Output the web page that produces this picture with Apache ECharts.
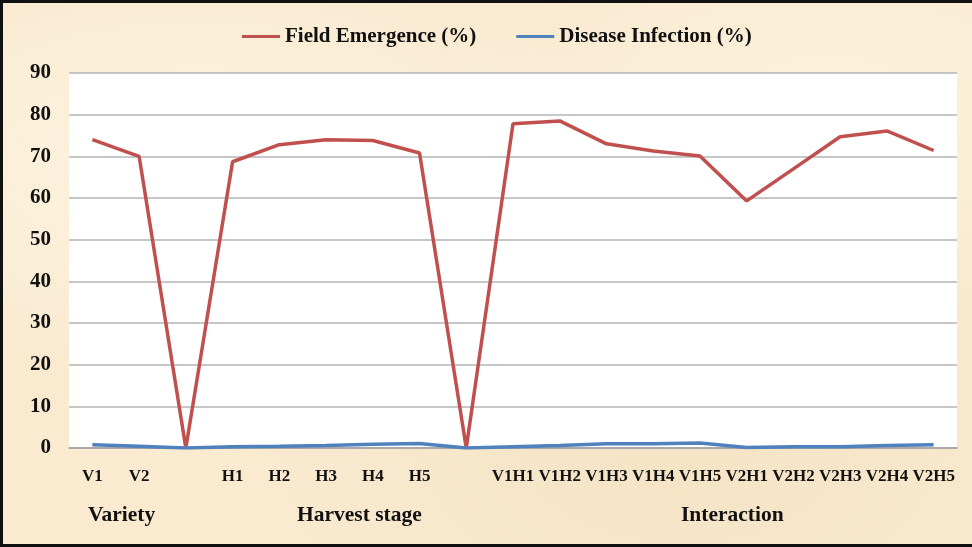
<!DOCTYPE html>
<html>
<head>
<meta charset="utf-8">
<script src="https://cdn.jsdelivr.net/npm/echarts@6/dist/echarts.min.js"></script>
<style>
  html, body { margin: 0; padding: 0; }
  body { width: 972px; height: 547px; overflow: hidden; background: #fbeed5; }
  #frame {
    position: absolute; left: 0; top: 0; width: 972px; height: 547px; box-sizing: border-box;
    border-left: 3px solid #111; border-top: 3px solid #111; border-bottom: 3px solid #111;
    background:
      radial-gradient(ellipse at 20% 30%, rgba(255,250,235,0.6), rgba(255,250,235,0) 40%),
      radial-gradient(ellipse at 70% 80%, rgba(240,220,185,0.5), rgba(240,220,185,0) 45%),
      radial-gradient(ellipse at 85% 20%, rgba(255,248,230,0.5), rgba(255,248,230,0) 35%),
      #f9ead0;
  }
  #chart { position: absolute; left: 0; top: 0; width: 972px; height: 547px; }
</style>
</head>
<body>
<div id="frame"></div>
<div id="chart"></div>
<script>
// categories (blank slots separate the three groups)
const categories = ['V1', 'V2', '', 'H1', 'H2', 'H3', 'H4', 'H5', '',
  'V1H1', 'V1H2', 'V1H3', 'V1H4', 'V1H5', 'V2H1', 'V2H2', 'V2H3', 'V2H4', 'V2H5'];
const fieldEmergence = [74, 70, 0, 68.7, 72.8, 74, 73.8, 70.8, 0,
  77.8, 78.5, 73, 71.3, 70.1, 59.3, 67, 74.7, 76.1, 71.4];
const diseaseInfection = [0.8, 0.4, 0, 0.3, 0.4, 0.6, 0.9, 1.1, 0,
  0.3, 0.6, 1.0, 1.0, 1.2, 0.1, 0.3, 0.3, 0.6, 0.8];
const groupLabels = ['Variety', 'Harvest stage', 'Interaction'];

const serif = '"Liberation Serif", "Times New Roman", serif';
const chart = echarts.init(document.getElementById('chart'));
chart.setOption({
  animation: false,
  backgroundColor: 'transparent',
  legend: {
    top: 21,
    left: 237,
    itemWidth: 38,
    itemHeight: 3,
    itemGap: 40,
    icon: 'rect',
    textStyle: { fontFamily: serif, fontWeight: 'bold', fontSize: 21, color: '#111' },
    data: ['Field Emergence (%)', 'Disease Infection (%)']
  },
  grid: { left: 69, right: 15, top: 73, bottom: 99, show: true, backgroundColor: '#ffffff', borderWidth: 0 },
  xAxis: {
    type: 'category',
    data: categories,
    boundaryGap: true,
    axisLine: { lineStyle: { color: '#a0a0a0', width: 1.5 } },
    axisTick: { show: false },
    axisLabel: { interval: 0, margin: 20, fontFamily: serif, fontWeight: 'bold', fontSize: 17, color: '#111' }
  },
  yAxis: {
    type: 'value',
    min: 0, max: 90, interval: 10,
    axisLine: { show: false },
    axisTick: { show: false },
    splitLine: { lineStyle: { color: '#b4b4b4', width: 1.5 } },
    axisLabel: { margin: 18, fontFamily: serif, fontWeight: 'bold', fontSize: 21, color: '#111' }
  },
  series: [
    {
      name: 'Field Emergence (%)', type: 'line', data: fieldEmergence,
      symbol: 'none', lineStyle: { color: '#c0504d', width: 3.5 }, itemStyle: { color: '#c0504d' }
    },
    {
      name: 'Disease Infection (%)', type: 'line', data: diseaseInfection,
      symbol: 'none', lineStyle: { color: '#4f81bd', width: 3.5 }, itemStyle: { color: '#4f81bd' }
    }
  ],
  graphic: [
    { type: 'text', left: 88, top: 504, style: { text: groupLabels[0], font: 'bold 21.5px ' + serif, fill: '#111' } },
    { type: 'text', left: 297, top: 504, style: { text: groupLabels[1], font: 'bold 21.5px ' + serif, fill: '#111' } },
    { type: 'text', left: 681, top: 504, style: { text: groupLabels[2], font: 'bold 21.5px ' + serif, fill: '#111' } }
  ]
});
</script>
</body>
</html>
